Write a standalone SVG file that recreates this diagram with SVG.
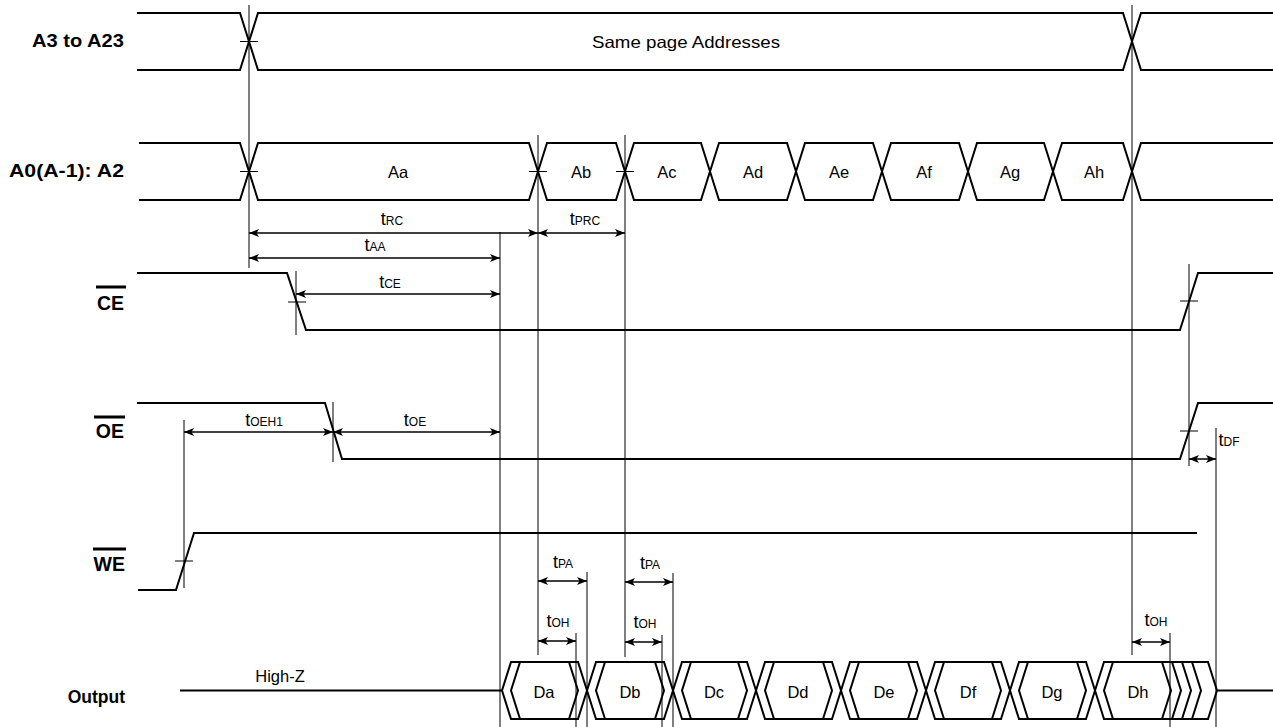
<svg xmlns="http://www.w3.org/2000/svg" width="1273" height="727" viewBox="0 0 1273 727">
<style>
  .sig { fill: none; stroke: #000; stroke-width: 2; stroke-linejoin: miter; }
  .guide { fill: none; stroke: #000; stroke-width: 1; }
  .tick { stroke: #000; stroke-width: 1; }
  .arr { stroke: #000; stroke-width: 1.5; marker-start: url(#ah); marker-end: url(#ah); }
  .lbl { font-family: "Liberation Sans", Arial, sans-serif; font-weight: bold; font-size: 17.5px; fill: #000; }
  .ov { font-family: "Liberation Sans", Arial, sans-serif; font-weight: bold; font-size: 19.5px; fill: #000; }
  .txt { font-family: "Liberation Sans", Arial, sans-serif; font-size: 16.5px; fill: #000; }
  .tm { font-family: "Liberation Sans", Arial, sans-serif; fill: #000; }
  .tt { font-size: 18px; }
  .ts { font-size: 12px; }
</style>
<defs>
  <marker id="ah" viewBox="0 0 10 8" refX="10" refY="4" markerWidth="10" markerHeight="8" markerUnits="userSpaceOnUse" orient="auto-start-reverse">
    <path d="M0,0 L10,4 L0,8 L2.5,4 z" fill="#000"/>
  </marker>
</defs>
<rect width="1273" height="727" fill="#fff"/>

<!-- Left labels -->
<g id="labels">
  <text class="lbl" x="124" y="47" text-anchor="end" textLength="92" lengthAdjust="spacingAndGlyphs">A3 to A23</text>
  <text class="lbl" x="124" y="177" text-anchor="end" textLength="115" lengthAdjust="spacingAndGlyphs">A0(A-1): A2</text>
  <text class="ov" x="124" y="310" text-anchor="end">CE</text>
  <line x1="96" y1="287" x2="126" y2="287" stroke="#000" stroke-width="3"/>
  <text class="ov" x="124" y="438" text-anchor="end">OE</text>
  <line x1="94" y1="417" x2="125" y2="417" stroke="#000" stroke-width="3"/>
  <text class="ov" x="125" y="571" text-anchor="end">WE</text>
  <line x1="93" y1="549" x2="126" y2="549" stroke="#000" stroke-width="3"/>
  <text class="lbl" x="125" y="703" text-anchor="end">Output</text>
</g>

<!-- A3 to A23 bus -->
<g id="bus-a3">
  <path class="sig" d="M137,13 H240 L258,70 H1123 L1141,13 H1273"/>
  <path class="sig" d="M137,70 H240 L258,13 H1123 L1141,70 H1273"/>
  <line class="tick" x1="240" y1="41.5" x2="258" y2="41.5"/>
  <text class="txt" x="686" y="48" text-anchor="middle" textLength="188" lengthAdjust="spacingAndGlyphs">Same page Addresses</text>
</g>

<!-- A0 bus -->
<g id="bus-a0">
  <path class="sig" d="M139,143 H240 L258,200 H529 L547,143 H616 L634,200 H701 L719,143 H787 L805,200 H873 L891,143 H959 L977,200 H1044 L1062,143 H1123 L1141,200 H1273"/>
  <path class="sig" d="M139,200 H240 L258,143 H529 L547,200 H616 L634,143 H701 L719,200 H787 L805,143 H873 L891,200 H959 L977,143 H1044 L1062,200 H1123 L1141,143 H1273"/>
  <line class="tick" x1="240" y1="171.5" x2="258" y2="171.5"/>
  <line class="tick" x1="529" y1="171.5" x2="547" y2="171.5"/>
  <line class="tick" x1="616" y1="171.5" x2="634" y2="171.5"/>
  <g class="txt" text-anchor="middle">
    <text x="398" y="178">Aa</text>
    <text x="581" y="178">Ab</text>
    <text x="667" y="178">Ac</text>
    <text x="753" y="178">Ad</text>
    <text x="839" y="178">Ae</text>
    <text x="924" y="178">Af</text>
    <text x="1010" y="178">Ag</text>
    <text x="1094" y="178">Ah</text>
  </g>
</g>

<!-- CE -->
<g id="sig-ce">
  <path class="sig" d="M137,273 H287 L306,330 H1180 L1198,273 H1273"/>
  <line class="tick" x1="288" y1="302" x2="306" y2="302"/>
  <line class="tick" x1="1180" y1="301" x2="1198" y2="301"/>
</g>

<!-- OE -->
<g id="sig-oe">
  <path class="sig" d="M137,403 H325 L342,459 H1180 L1198,403 H1273"/>
  <line class="tick" x1="1180" y1="431" x2="1198" y2="431"/>
</g>

<!-- WE -->
<g id="sig-we">
  <path class="sig" d="M138,590 H176 L194,533 H1197"/>
  <line class="tick" x1="175" y1="561" x2="193" y2="561"/>
</g>

<!-- Output -->
<g id="sig-out">
  <path class="sig" d="M180,690.5 H502"/>
  <path class="sig" d="M1217,690.5 H1273"/>
  <g class="sig">
    <polygon points="502,690.5 511,662 578,662 587,690.5 578,719 511,719"/>
    <polyline points="520,662 511,690.5 520,719"/>
    <polyline points="569,662 578,690.5 569,719"/>
    <polygon points="587,690.5 596,662 664,662 673,690.5 664,719 596,719"/>
    <polyline points="605,662 596,690.5 605,719"/>
    <polyline points="655,662 664,690.5 655,719"/>
    <polygon points="673,690.5 682,662 747,662 756,690.5 747,719 682,719"/>
    <polyline points="691,662 682,690.5 691,719"/>
    <polyline points="738,662 747,690.5 738,719"/>
    <polygon points="756,690.5 765,662 832,662 841,690.5 832,719 765,719"/>
    <polyline points="774,662 765,690.5 774,719"/>
    <polyline points="823,662 832,690.5 823,719"/>
    <polygon points="841,690.5 850,662 917,662 926,690.5 917,719 850,719"/>
    <polyline points="859,662 850,690.5 859,719"/>
    <polyline points="908,662 917,690.5 908,719"/>
    <polygon points="926,690.5 935,662 1001,662 1010,690.5 1001,719 935,719"/>
    <polyline points="944,662 935,690.5 944,719"/>
    <polyline points="992,662 1001,690.5 992,719"/>
    <polygon points="1010,690.5 1019,662 1086,662 1095,690.5 1086,719 1019,719"/>
    <polyline points="1028,662 1019,690.5 1028,719"/>
    <polyline points="1077,662 1086,690.5 1077,719"/>
    <polygon points="1095,690.5 1104,662 1208,662 1217,690.5 1208,719 1104,719"/>
    <polyline points="1113,662 1104,690.5 1113,719"/>
    <polyline points="1162,662 1171,690.5 1162,719"/>
    <polyline points="1172,662 1181,690.5 1172,719"/>
    <polyline points="1182,662 1191,690.5 1182,719"/>
    <polyline points="1192,662 1201,690.5 1192,719"/>
  </g>
  <g class="txt" text-anchor="middle">
    <text x="280" y="682">High-Z</text>
    <text x="544" y="698">Da</text>
    <text x="630" y="698">Db</text>
    <text x="714" y="698">Dc</text>
    <text x="798" y="698">Dd</text>
    <text x="884" y="698">De</text>
    <text x="968" y="698">Df</text>
    <text x="1052" y="698">Dg</text>
    <text x="1138" y="698">Dh</text>
  </g>
</g>

<!-- Connectors: guide lines and timing arrows -->
<g id="connectors">
  <g class="guide">
    <line x1="249" y1="5" x2="249" y2="268"/>
    <line x1="1132" y1="5" x2="1132" y2="655"/>
    <line x1="538" y1="135" x2="538" y2="655"/>
    <line x1="625" y1="135" x2="625" y2="657"/>
    <line x1="500" y1="232" x2="500" y2="727"/>
    <line x1="296" y1="271" x2="296" y2="335"/>
    <line x1="333" y1="402" x2="333" y2="462"/>
    <line x1="184" y1="420" x2="184" y2="588"/>
    <line x1="1189" y1="264" x2="1189" y2="466"/>
    <line x1="1216" y1="428" x2="1216" y2="727"/>
    <line x1="587" y1="572" x2="587" y2="727"/>
    <line x1="673" y1="573" x2="673" y2="727"/>
    <line x1="576" y1="633" x2="576" y2="727"/>
    <line x1="662" y1="635" x2="662" y2="727"/>
    <line x1="1170" y1="633" x2="1170" y2="727"/>
  </g>
  <g>
    <line class="arr" x1="249" y1="233" x2="538" y2="233"/>
    <line class="arr" x1="538" y1="233" x2="625" y2="233"/>
    <line class="arr" x1="249" y1="258" x2="500" y2="258"/>
    <line class="arr" x1="296" y1="294" x2="500" y2="294"/>
    <line class="arr" x1="184" y1="432" x2="333" y2="432"/>
    <line class="arr" x1="333" y1="432" x2="500" y2="432"/>
    <line class="arr" x1="1189" y1="459" x2="1216" y2="459"/>
    <line class="arr" x1="538" y1="581" x2="587" y2="581"/>
    <line class="arr" x1="625" y1="582" x2="673" y2="582"/>
    <line class="arr" x1="538" y1="641" x2="576" y2="641"/>
    <line class="arr" x1="625" y1="642" x2="662" y2="642"/>
    <line class="arr" x1="1132" y1="642" x2="1170" y2="642"/>
  </g>
  <g class="tm" text-anchor="middle">
    <text x="392" y="225"><tspan class="tt">t</tspan><tspan class="ts">RC</tspan></text>
    <text x="585" y="225"><tspan class="tt">t</tspan><tspan class="ts">PRC</tspan></text>
    <text x="375" y="251"><tspan class="tt">t</tspan><tspan class="ts">AA</tspan></text>
    <text x="390" y="288"><tspan class="tt">t</tspan><tspan class="ts">CE</tspan></text>
    <text x="264" y="426"><tspan class="tt">t</tspan><tspan class="ts">OEH1</tspan></text>
    <text x="415" y="426"><tspan class="tt">t</tspan><tspan class="ts">OE</tspan></text>
    <text x="1229" y="446"><tspan class="tt">t</tspan><tspan class="ts">DF</tspan></text>
    <text x="563" y="568"><tspan class="tt">t</tspan><tspan class="ts">PA</tspan></text>
    <text x="650" y="569"><tspan class="tt">t</tspan><tspan class="ts">PA</tspan></text>
    <text x="558" y="627"><tspan class="tt">t</tspan><tspan class="ts">OH</tspan></text>
    <text x="645" y="628"><tspan class="tt">t</tspan><tspan class="ts">OH</tspan></text>
    <text x="1156" y="626"><tspan class="tt">t</tspan><tspan class="ts">OH</tspan></text>
  </g>
</g>
</svg>
